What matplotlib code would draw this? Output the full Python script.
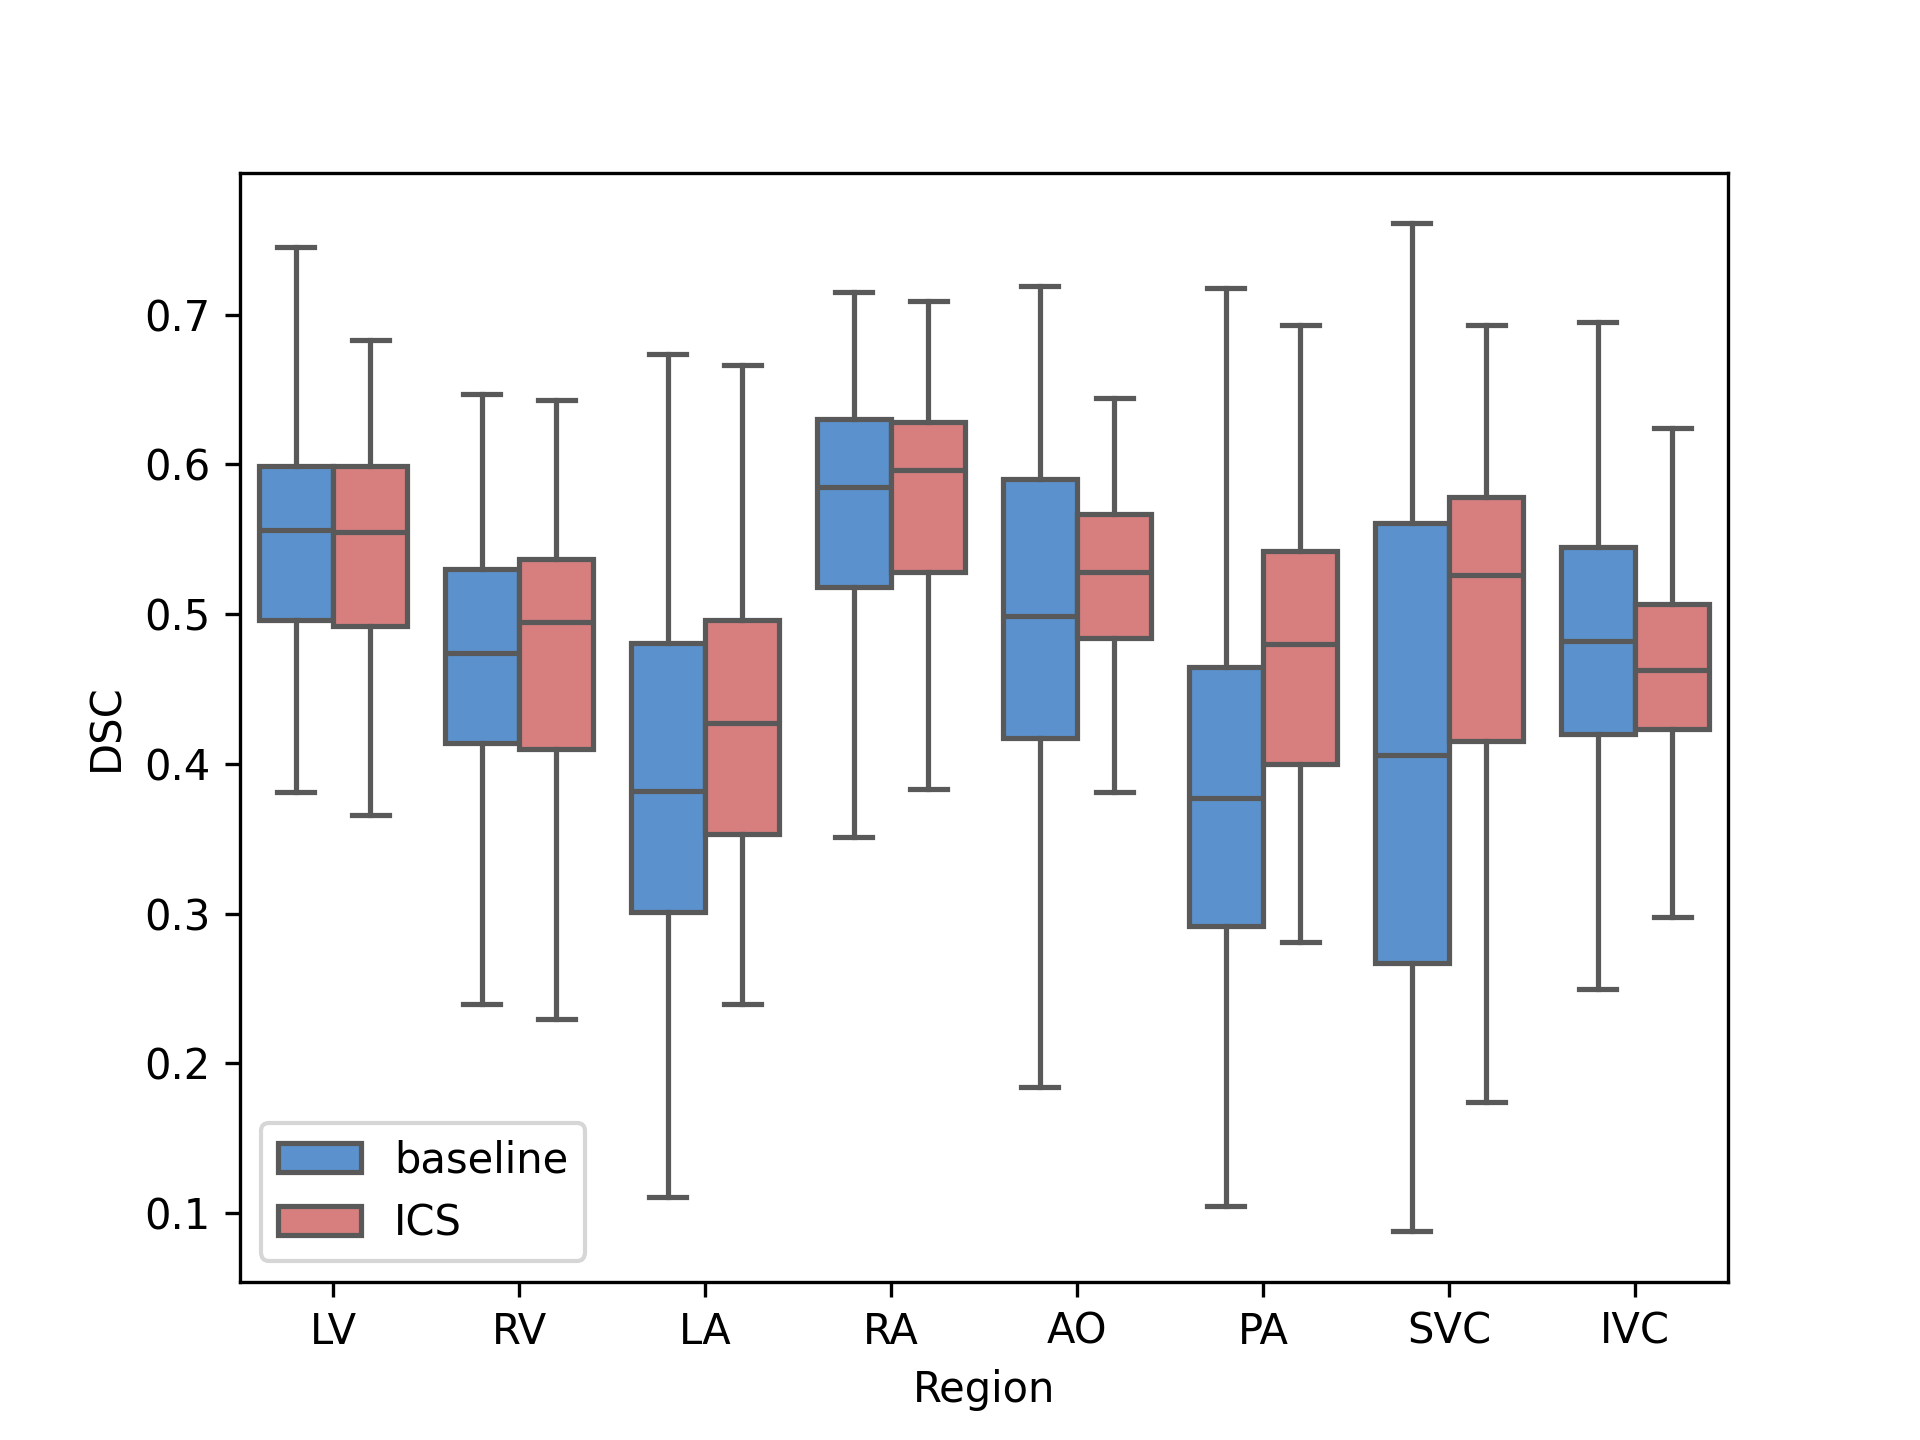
import matplotlib
matplotlib.use("Agg")
import matplotlib.pyplot as plt
from matplotlib.patches import Patch

regions = ["LV", "RV", "LA", "RA", "AO", "PA", "SVC", "IVC"]
groups = ["baseline", "ICS"]

# per region: whisker low, Q1, median, Q3, whisker high
baseline_lo = [0.381, 0.240, 0.111, 0.351, 0.184, 0.105, 0.088, 0.250]
baseline_q1 = [0.496, 0.414, 0.301, 0.518, 0.417, 0.292, 0.267, 0.420]
baseline_med = [0.556, 0.474, 0.382, 0.585, 0.499, 0.377, 0.406, 0.482]
baseline_q3 = [0.599, 0.530, 0.481, 0.630, 0.590, 0.465, 0.561, 0.545]
baseline_hi = [0.745, 0.647, 0.674, 0.715, 0.719, 0.718, 0.761, 0.695]

ics_lo = [0.366, 0.230, 0.240, 0.383, 0.381, 0.281, 0.174, 0.298]
ics_q1 = [0.492, 0.410, 0.353, 0.528, 0.484, 0.400, 0.415, 0.423]
ics_med = [0.555, 0.495, 0.427, 0.596, 0.528, 0.480, 0.526, 0.463]
ics_q3 = [0.599, 0.537, 0.496, 0.628, 0.567, 0.542, 0.578, 0.507]
ics_hi = [0.683, 0.643, 0.666, 0.709, 0.644, 0.693, 0.693, 0.624]

colors = {"baseline": "#5B92CE", "ICS": "#D77F7E"}
line_color = "#595959"
lw = 1.25

fig, ax = plt.subplots(figsize=(6.4, 4.8), dpi=300)

series = {
    "baseline": (baseline_lo, baseline_q1, baseline_med, baseline_q3, baseline_hi),
    "ICS": (ics_lo, ics_q1, ics_med, ics_q3, ics_hi),
}
offsets = {"baseline": -0.2, "ICS": 0.2}

for g in groups:
    lo, q1, med, q3, hi = series[g]
    stats = []
    for i in range(len(regions)):
        stats.append(dict(whislo=lo[i], q1=q1[i], med=med[i], q3=q3[i], whishi=hi[i], fliers=[]))
    pos = [i + offsets[g] for i in range(len(regions))]
    ax.bxp(stats, positions=pos, widths=0.4, capwidths=0.2, patch_artist=True,
           showfliers=False, manage_ticks=False,
           boxprops=dict(facecolor=colors[g], edgecolor=line_color, linewidth=lw),
           whiskerprops=dict(color=line_color, linewidth=lw),
           capprops=dict(color=line_color, linewidth=lw),
           medianprops=dict(color=line_color, linewidth=lw))

ax.set_xlim(-0.5, len(regions) - 0.5)
ax.set_xticks(range(len(regions)))
ax.set_xticklabels(regions)
ax.set_xlabel("Region")
ax.set_ylabel("DSC")

handles = [Patch(facecolor=colors[g], edgecolor=line_color, linewidth=lw, label=g) for g in groups]
ax.legend(handles=handles, loc="lower left")

fig.savefig("out.png", dpi=300)
